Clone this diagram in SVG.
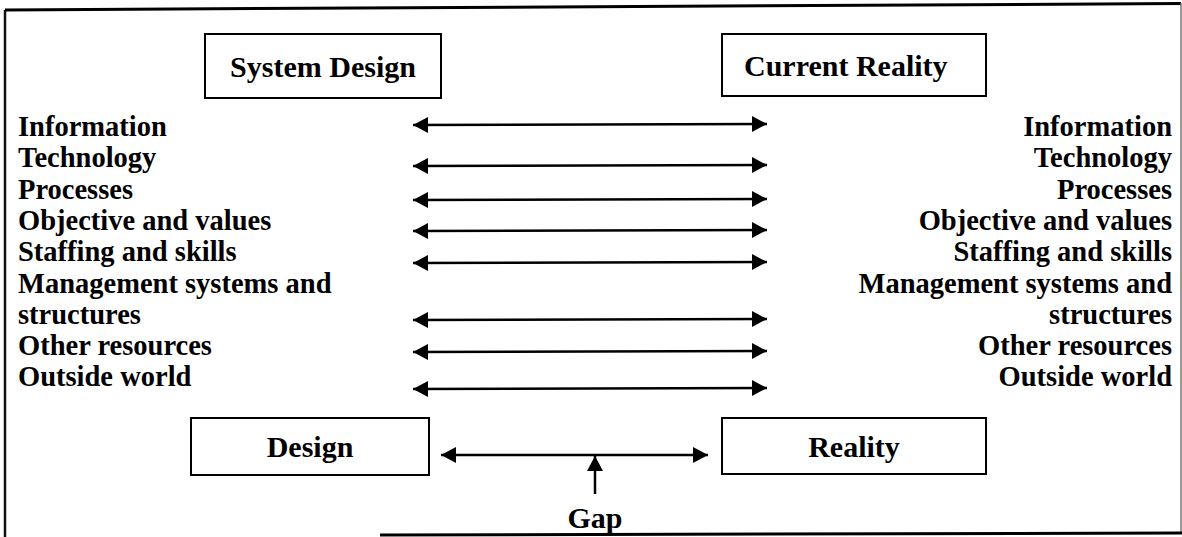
<svg xmlns="http://www.w3.org/2000/svg" width="1182" height="537" viewBox="0 0 1182 537">
<style>
  .lbl { font-family: "Liberation Serif", "Times New Roman", serif; font-weight: bold; font-size: 28.5px; fill: #000; }
  .ttl { font-family: "Liberation Serif", "Times New Roman", serif; font-weight: bold; font-size: 30px; fill: #000; }
  .box { fill: #fff; stroke: #000; stroke-width: 2; }
  .arr { stroke: #000; stroke-width: 2.5; fill: none; marker-start: url(#ah); marker-end: url(#ah); }
  .one { stroke: #000; stroke-width: 2.5; fill: none; marker-end: url(#ah); }
</style>
<defs>
  <marker id="ah" markerUnits="userSpaceOnUse" markerWidth="16" markerHeight="18" refX="15" refY="8" orient="auto-start-reverse">
    <path d="M0,0 L15,8 L0,16 Z" fill="#000"/>
  </marker>
</defs>
<rect width="1182" height="537" fill="#fff"/>
<g id="frame">
  <line x1="5" y1="537" x2="5" y2="10" stroke="#111" stroke-width="2.5"/>
  <line x1="5" y1="10" x2="1181" y2="3.5" stroke="#000" stroke-width="3"/>
  <line x1="1181" y1="3" x2="1181" y2="534" stroke="#777" stroke-width="1.5"/>
  <line x1="380" y1="535" x2="1182" y2="533" stroke="#000" stroke-width="3"/>
</g>
<g id="system-design">
  <rect class="box" x="205" y="34" width="236" height="64"/>
  <text class="ttl" x="323" y="77" text-anchor="middle">System Design</text>
</g>
<g id="current-reality">
  <rect class="box" x="722" y="34" width="264" height="62"/>
  <text class="ttl" x="744" y="76">Current Reality</text>
</g>
<g id="design">
  <rect class="box" x="191" y="418" width="238" height="57"/>
  <text class="ttl" x="310" y="457" text-anchor="middle">Design</text>
</g>
<g id="reality">
  <rect class="box" x="722" y="418" width="264" height="56"/>
  <text class="ttl" x="854" y="457" text-anchor="middle">Reality</text>
</g>
<g id="left-list" class="lbl">
  <text x="18" y="136">Information</text>
  <text x="18" y="167">Technology</text>
  <text x="18" y="199">Processes</text>
  <text x="18" y="230">Objective and values</text>
  <text x="18" y="261">Staffing and skills</text>
  <text x="18" y="293">Management systems and</text>
  <text x="18" y="324">structures</text>
  <text x="18" y="355">Other resources</text>
  <text x="18" y="386">Outside world</text>
</g>
<g id="right-list" class="lbl" text-anchor="end">
  <text x="1172" y="136">Information</text>
  <text x="1172" y="167">Technology</text>
  <text x="1172" y="199">Processes</text>
  <text x="1172" y="230">Objective and values</text>
  <text x="1172" y="261">Staffing and skills</text>
  <text x="1172" y="293">Management systems and</text>
  <text x="1172" y="324">structures</text>
  <text x="1172" y="355">Other resources</text>
  <text x="1172" y="386">Outside world</text>
</g>
<g id="gap">
  <text class="ttl" x="595" y="528" text-anchor="middle">Gap</text>
</g>
<g id="connectors">
  <line class="arr" x1="413" y1="125" x2="767" y2="124"/>
  <line class="arr" x1="413" y1="166" x2="767" y2="165"/>
  <line class="arr" x1="413" y1="200" x2="767" y2="199"/>
  <line class="arr" x1="413" y1="231" x2="767" y2="230"/>
  <line class="arr" x1="413" y1="263" x2="767" y2="262"/>
  <line class="arr" x1="413" y1="320" x2="767" y2="319"/>
  <line class="arr" x1="413" y1="352" x2="767" y2="351"/>
  <line class="arr" x1="413" y1="389" x2="767" y2="388"/>
  <line class="arr" x1="441" y1="455" x2="708" y2="455"/>
  <line class="one" x1="595" y1="494" x2="595" y2="456"/>
</g>
</svg>
